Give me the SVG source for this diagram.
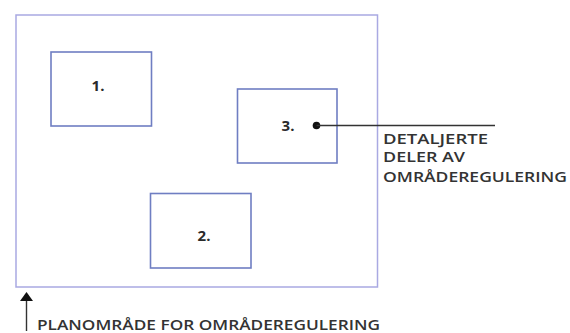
<svg xmlns="http://www.w3.org/2000/svg" width="570" height="333" viewBox="0 0 570 333">
  <style>
    .area { fill: none; stroke: #a9a9e2; stroke-width: 1.5; }
    .part { fill: #fff; stroke: #6f7ec2; stroke-width: 1.6; }
    .num { font-family: "Open Sans", "Liberation Sans", sans-serif; font-weight: bold; font-size: 15px; fill: #2a2a2a; text-anchor: middle; }
    .lbl { font-family: "Open Sans", "Liberation Sans", sans-serif; font-weight: 600; font-size: 13.5px; fill: #333; }
    .lead { stroke: #333; stroke-width: 1.4; fill: none; }
  </style>
  <rect width="570" height="333" fill="#fff"/>

  <g id="planomrade">
    <rect class="area" x="16" y="15" width="361.5" height="272"/>
  </g>
  <g id="del1">
    <rect class="part" x="51" y="52" width="100.5" height="74"/>
    <text class="num" x="98" y="91">1.</text>
  </g>
  <g id="del3">
    <rect class="part" x="237.5" y="89" width="99.5" height="74"/>
    <text class="num" x="288" y="131">3.</text>
  </g>
  <g id="del2">
    <rect class="part" x="150.5" y="193.5" width="100.5" height="74.5"/>
    <text class="num" x="204" y="241">2.</text>
  </g>

  <g id="connectors">
    <circle cx="316.5" cy="125.5" r="3.8" fill="#111"/>
    <line class="lead" x1="316.5" y1="125.5" x2="495" y2="125.5"/>
    <line class="lead" x1="26.5" y1="331" x2="26.5" y2="300" stroke-width="1.8"/>
    <polygon points="26.5,292 33,301 20,301" fill="#111"/>
  </g>

  <g id="labels">
    <text class="lbl" x="383" y="144" textLength="105" lengthAdjust="spacingAndGlyphs">DETALJERTE</text>
    <text class="lbl" x="383" y="162" textLength="82" lengthAdjust="spacingAndGlyphs">DELER AV</text>
    <text class="lbl" x="383" y="182" textLength="184" lengthAdjust="spacingAndGlyphs">OMRÅDEREGULERING</text>
    <text class="lbl" x="37" y="330" font-size="16" textLength="343" lengthAdjust="spacingAndGlyphs">PLANOMRÅDE FOR OMRÅDEREGULERING</text>
  </g>
</svg>
